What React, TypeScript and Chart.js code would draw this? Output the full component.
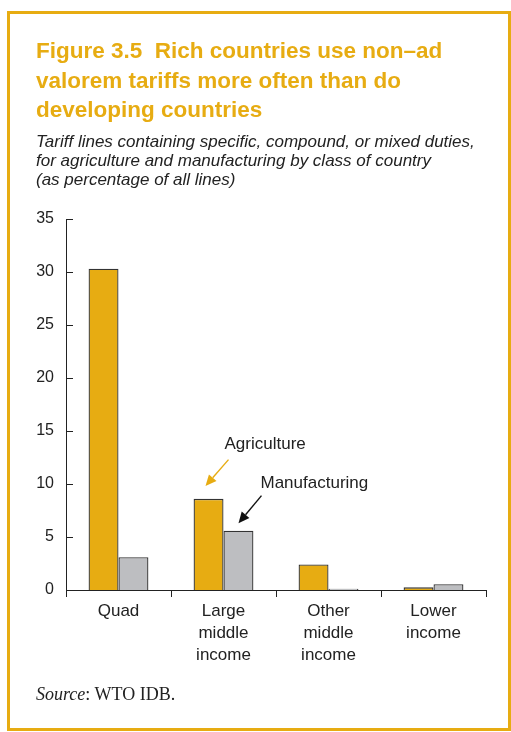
import React, { useEffect, useRef } from "react";
import { Chart, registerables } from "chart.js";

Chart.register(...registerables);

const categories: string[][] = [["Quad"], ["Large", "middle", "income"], ["Other", "middle", "income"], ["Lower", "income"]];
const agriculture: number[] = [30.3, 8.6, 2.4, 0.25];
const manufacturing: number[] = [3.1, 5.6, 0.12, 0.55];
const yTicks: number[] = [0, 5, 10, 15, 20, 25, 30, 35];

const GOLD = "#E7AC12";
const GRAY = "#BDBEC1";
const INK = "#222222";
const FONT = "'Liberation Sans', Arial, sans-serif";

function arrow(ctx: CanvasRenderingContext2D, x1: number, y1: number, x2: number, y2: number, color: string) {
  const ang = Math.atan2(y2 - y1, x2 - x1);
  const head = 11;
  const half = 5;
  const bx = x2 - head * Math.cos(ang);
  const by = y2 - head * Math.sin(ang);
  ctx.save();
  ctx.strokeStyle = color;
  ctx.fillStyle = color;
  ctx.lineWidth = 1.4;
  ctx.beginPath();
  ctx.moveTo(x1, y1);
  ctx.lineTo(bx, by);
  ctx.stroke();
  ctx.beginPath();
  ctx.moveTo(x2, y2);
  ctx.lineTo(bx + half * Math.sin(ang), by - half * Math.cos(ang));
  ctx.lineTo(bx - half * Math.sin(ang), by + half * Math.cos(ang));
  ctx.closePath();
  ctx.fill();
  ctx.restore();
}

const decorPlugin = {
  id: "decor",
  afterDraw(chart: any) {
    const ctx: CanvasRenderingContext2D = chart.ctx;
    const xs = chart.scales.x;
    const ys = chart.scales.y;
    const left = chart.chartArea.left;
    // inward y ticks
    ctx.save();
    ctx.strokeStyle = INK;
    ctx.lineWidth = 1;
    ys.ticks.forEach((t: any) => {
      const y = Math.round(ys.getPixelForValue(t.value)) + 0.5;
      ctx.beginPath();
      ctx.moveTo(left, y);
      ctx.lineTo(left + 7, y);
      ctx.stroke();
    });
    ctx.restore();

    // annotations near "Large middle income"
    const cx = xs.getPixelForValue(1);
    ctx.save();
    ctx.font = `17px ${FONT}`;
    ctx.fillStyle = INK;
    ctx.textBaseline = "middle";
    ctx.textAlign = "left";
    ctx.fillText("Agriculture", cx + 1, ys.getPixelForValue(13.7));
    ctx.fillText("Manufacturing", cx + 37, ys.getPixelForValue(10.1));
    ctx.restore();
    arrow(ctx, cx + 5, ys.getPixelForValue(12.3), cx - 18, ys.getPixelForValue(9.8), GOLD);
    arrow(ctx, cx + 38, ys.getPixelForValue(8.9), cx + 15, ys.getPixelForValue(6.3), "#111");
  },
};

export default function App() {
  const ref = useRef<HTMLCanvasElement | null>(null);
  useEffect(() => {
    if (!ref.current) return;
    const chart = new Chart(ref.current, {
      type: "bar",
      data: {
        labels: categories as any,
        datasets: [
          { label: "Agriculture", data: agriculture, backgroundColor: GOLD, borderColor: "#333333", borderWidth: 1.3 },
          { label: "Manufacturing", data: manufacturing, backgroundColor: GRAY, borderColor: "#333333", borderWidth: 1.3 },
        ],
      },
      options: {
        animation: false,
        responsive: false,
        maintainAspectRatio: false,
        layout: { padding: { top: 219, right: 25, left: 0, bottom: 0 } },
        plugins: { legend: { display: false }, tooltip: { enabled: false }, title: { display: false } },
        datasets: { bar: { categoryPercentage: 0.57, barPercentage: 1 } } as any,
        scales: {
          x: {
            type: "category",
            offset: true,
            grid: { display: true, offset: true, drawOnChartArea: false, drawTicks: true, tickLength: 7, color: INK, lineWidth: 1 },
            border: { display: true, color: INK, width: 1 },
            ticks: { color: INK, font: { family: FONT, size: 17, lineHeight: 1.27 }, padding: 4, maxRotation: 0, autoSkip: false },
            afterFit: (axis: any) => { axis.height = 142; },
          },
          y: {
            min: 0,
            max: 35,
            afterBuildTicks: (axis: any) => { axis.ticks = yTicks.map((v) => ({ value: v })); },
            grid: { display: false, drawTicks: false },
            border: { display: true, color: INK, width: 1 },
            ticks: { color: INK, font: { family: FONT, size: 16 }, padding: 12 },
            afterFit: (axis: any) => { axis.width = 66; },
          },
        },
      },
      plugins: [decorPlugin],
    });
    return () => chart.destroy();
  }, []);

  return (
    <div style={{ position: "absolute", left: 0, top: 0, width: 511, height: 732, overflow: "hidden", background: "#fff" }}>
      <div style={{ position: "absolute", left: 7, top: 11, width: 504, height: 720, boxSizing: "border-box", border: `3px solid ${GOLD}` }} />
      <canvas ref={ref} width={511} height={732} style={{ position: "absolute", left: 0, top: 0, width: 511, height: 732 }} />
      <div style={{ position: "absolute", left: 36, top: 36, fontFamily: FONT, fontWeight: "bold", fontSize: 22.5, lineHeight: "29.5px", color: GOLD, whiteSpace: "nowrap" }}>
        <div>Figure 3.5&nbsp; Rich countries use non–ad</div>
        <div>valorem tariffs more often than do</div>
        <div>developing countries</div>
      </div>
      <div style={{ position: "absolute", left: 36, top: 131.5, fontFamily: FONT, fontStyle: "italic", fontSize: 17, lineHeight: "19px", color: INK, whiteSpace: "nowrap" }}>
        <div>Tariff lines containing specific, compound, or mixed duties,</div>
        <div>for agriculture and manufacturing by class of country</div>
        <div>(as percentage of all lines)</div>
      </div>
      <div style={{ position: "absolute", left: 36, top: 684, fontFamily: "'Liberation Serif', 'Times New Roman', serif", fontSize: 18, lineHeight: "20px", color: INK, whiteSpace: "nowrap" }}>
        <i>Source</i>: WTO IDB.
      </div>
    </div>
  );
}
